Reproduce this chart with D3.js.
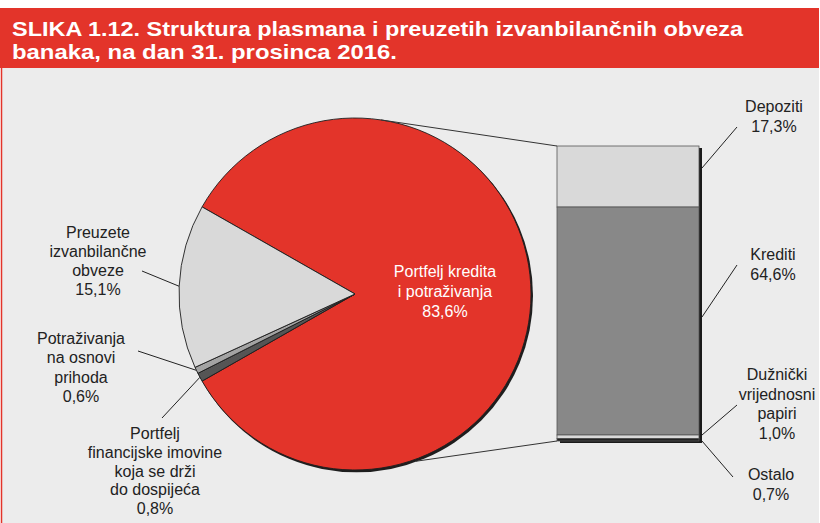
<!DOCTYPE html>
<html lang="hr">
    <head>
        <meta charset="utf-8">
        <title>SLIKA 1.12.</title>
        <script type="text/javascript" src="https://cdnjs.cloudflare.com/ajax/libs/d3/7.8.5/d3.min.js"></script>
        <style type="text/css">
            body { margin: 0; background: #fff; }
            text { font-family: "Liberation Sans", Arial, sans-serif; }
        </style>
    </head>
    <body>
        <script type="text/javascript">
            var w = 820;
            var h = 523;

            // pie: loans portfolio first, then the small slices going round
            var pieNames = ["Portfelj kredita|i potraživanja",
                            "Portfelj|financijske imovine|koja se drži|do dospijeća",
                            "Potraživanja|na osnovi|prihoda",
                            "Preuzete|izvanbilančne|obveze"];
            var pieValues = [83.6, 0.8, 0.6, 15.1];

            // bar: breakdown of the loans portfolio, top to bottom
            var barNames = ["Depoziti", "Krediti", "Dužnički|vrijednosni|papiri", "Ostalo"];
            var barValues = [17.3, 64.6, 1.0, 0.7];

            var red = "#e3342a";
            var pieColors = [red, "#555555", "#a3a3a3", "#d9d9d9"];
            var barColors = ["#d9d9d9", "#888888", "#d9d9d9", "#222222"];

            var fmt = function(v) { return d3.format(".1f")(v).replace(".", ",") + "%"; };

            var svg = d3.select("body")
                        .append("svg")
                        .attr("width", w)
                        .attr("height", h);

            // panel + title bar
            svg.append("rect").attr("x", 1).attr("y", 68).attr("width", 818).attr("height", h - 68).attr("fill", "#ececec");
            svg.append("line").attr("x1", 1.5).attr("x2", 1.5).attr("y1", 68).attr("y2", h)
               .attr("stroke", red).attr("stroke-width", 1.5);
            svg.append("rect").attr("x", 0).attr("y", 8).attr("width", 819).attr("height", 60).attr("fill", red);

            var title = ["SLIKA 1.12. Struktura plasmana i preuzetih izvanbilančnih obveza",
                         "banaka, na dan 31. prosinca 2016."];
            var titleLen = [731, 385];
            svg.selectAll("text.title")
               .data(title)
               .enter()
               .append("text")
               .attr("class", "title")
               .attr("x", 12)
               .attr("y", function(d, i) { return 36 + i * 23; })
               .attr("textLength", function(d, i) { return titleLen[i]; })
               .attr("lengthAdjust", "spacingAndGlyphs")
               .attr("font-size", "21px")
               .attr("font-weight", "bold")
               .attr("fill", "#fff")
               .text(function(d) { return d; });

            // ---- pie ----
            var cx = 355, cy = 294, r = 176;
            var total = d3.sum(pieValues);
            var redSpan = pieValues[0] / total * 2 * Math.PI;
            var a0 = Math.PI / 2 - redSpan / 2;

            var pie = d3.pie().sort(null).value(function(d) { return d; })
                        .startAngle(a0).endAngle(a0 + 2 * Math.PI);
            var arcs = pie(pieValues);
            var arc = d3.arc().innerRadius(0).outerRadius(r);

            var g = svg.append("g").attr("transform", "translate(" + cx + "," + cy + ")");

            g.append("circle").attr("cx", 1.5).attr("cy", 1.8).attr("r", r + 0.5).attr("fill", "#1e1e1e");

            g.selectAll("path")
             .data(arcs)
             .enter()
             .append("path")
             .attr("d", arc)
             .attr("fill", function(d, i) { return pieColors[i]; })
             .attr("stroke", "#1e1e1e")
             .attr("stroke-width", 0.9)
             .attr("stroke-linejoin", "round");

            // point on the pie rim, angle in d3 convention
            function rim(a, rr) {
                return [cx + rr * Math.sin(a), cy - rr * Math.cos(a)];
            }

            // ---- bar ----
            var bx = 557, bw = 142;
            var barTotal = d3.sum(barValues);
            var y = d3.scaleLinear().domain([0, barTotal]).range([146, 441]);
            var stack = [];
            var acc = 0;
            barValues.forEach(function(v) { stack.push([acc, acc + v]); acc += v; });

            svg.append("rect").attr("x", bx + 3).attr("y", y(0) + 2)
               .attr("width", bw).attr("height", y(barTotal) - y(0))
               .attr("fill", "#1a1a1a");

            svg.selectAll("rect.seg")
               .data(stack)
               .enter()
               .append("rect")
               .attr("class", "seg")
               .attr("x", bx)
               .attr("y", function(d) { return y(d[0]); })
               .attr("width", bw)
               .attr("height", function(d) { return y(d[1]) - y(d[0]); })
               .attr("fill", function(d, i) { return barColors[i]; })
               .attr("stroke", "#555")
               .attr("stroke-width", 0.8);

            // connectors pie -> bar
            var pTop = rim(Math.PI / 2 - 81.5 * Math.PI / 180, r);
            var pBot = rim(Math.PI / 2 + 70 * Math.PI / 180, r + 2);
            svg.append("line").attr("x1", pTop[0]).attr("y1", pTop[1]).attr("x2", bx).attr("y2", y(0))
               .attr("stroke", "#333").attr("stroke-width", 1);
            svg.append("line").attr("x1", pBot[0]).attr("y1", pBot[1]).attr("x2", bx).attr("y2", y(barTotal))
               .attr("stroke", "#333").attr("stroke-width", 1);

            // ---- labels ----
            function label(x, y0, lines, color, step) {
                var t = svg.append("text")
                           .attr("text-anchor", "middle")
                           .attr("font-size", "16px")
                           .attr("fill", color);
                lines.forEach(function(s, i) {
                    t.append("tspan").attr("x", x).attr("y", y0 + i * step).text(s);
                });
            }

            // pie label positions and leader starts
            var pieLab = [[445, 277, 20], [155, 439, 18.8], [81, 344, 19.4], [98, 238, 19]];
            var pieLead = [null, [162, 418], [138, 351], [142, 271]];
            arcs.forEach(function(d, i) {
                var lines = pieNames[i].split("|").concat([fmt(pieValues[i])]);
                label(pieLab[i][0], pieLab[i][1], lines, i === 0 ? "#fff" : "#222", pieLab[i][2]);
                if (pieLead[i]) {
                    var p = rim((d.startAngle + d.endAngle) / 2, r);
                    svg.append("line").attr("x1", pieLead[i][0]).attr("y1", pieLead[i][1])
                       .attr("x2", p[0]).attr("y2", p[1])
                       .attr("stroke", "#222").attr("stroke-width", 1);
                }
            });

            // bar labels
            var barLab = [[774, 112], [773, 260], [777, 380], [771, 480]];
            var barLeadEnd = [[737, 127], [737, 265], [737, 405], [733, 477]];
            var barLeadStart = [168, 317, 435, 441];
            stack.forEach(function(d, i) {
                var lines = barNames[i].split("|").concat([fmt(barValues[i])]);
                label(barLab[i][0], barLab[i][1], lines, "#222", 19.5);
                svg.append("line").attr("x1", bx + bw + 3).attr("y1", barLeadStart[i])
                   .attr("x2", barLeadEnd[i][0]).attr("y2", barLeadEnd[i][1])
                   .attr("stroke", "#222").attr("stroke-width", 1);
            });
        </script>
    </body>
</html>
